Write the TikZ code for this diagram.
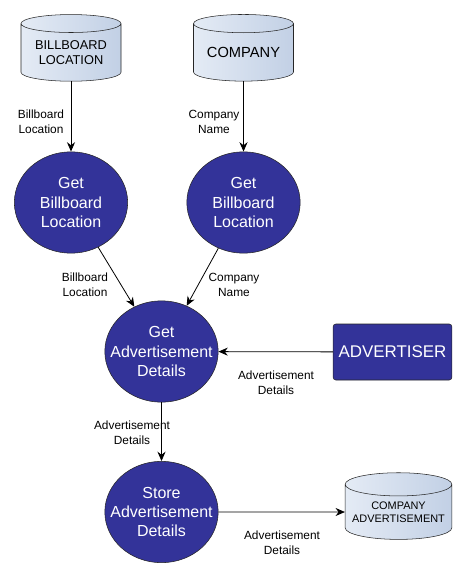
\documentclass[tikz,border=0pt]{standalone}
\usepackage{fontspec}
\setmainfont{Liberation Sans}
\usetikzlibrary{shapes.geometric,arrows.meta}
\definecolor{procblue}{RGB}{51,51,153}
\definecolor{storelight}{RGB}{228,235,245}
\definecolor{storedark}{RGB}{194,208,229}

\begin{document}
\begin{tikzpicture}[x=0.75pt,y=-0.75pt,
    process/.style={ellipse,draw=black!85,fill=procblue,text=white,minimum width=85pt,minimum height=76pt,inner sep=0pt,inner xsep=-10pt,align=center,font=\fontsize{12}{14.6}\selectfont},
    store/.style={cylinder,shape border rotate=90,aspect=0.25,draw=black!85,left color=storelight,right color=storedark,minimum width=75pt,minimum height=50pt,inner sep=0pt,align=center},
    entity/.style={rectangle,rounded corners=2pt,draw=black!85,fill=procblue,text=white,minimum width=89pt,minimum height=42pt,font=\fontsize{12.7}{15}\selectfont},
    flow/.style={draw,line width=0.6pt,-{Stealth[length=7pt,width=6pt]}},
    flowlabel/.style={align=center,font=\fontsize{8.9}{11.2}\selectfont}]
        \useasboundingbox (0,0) rectangle (468,578);
        % data stores
        \node[store,font=\fontsize{9.6}{11.8}\selectfont] (BL) at (71,52.5) {BILLBOARD\\LOCATION};
        \node[store,font=\fontsize{11}{13}\selectfont] (CO) at (243.5,52.5) {COMPANY};
        \node[store,minimum width=80pt,font=\fontsize{8.2}{9.8}\selectfont] (CA) at (398.5,512) {COMPANY\\ADVERTISEMENT};
        % processes
        \node[process] (GB) at (71,202.5) {Get\\Billboard\\Location};
        \node[process] (GC) at (243.5,202.5) {Get\\Billboard\\Location};
        \node[process] (GA) at (161.5,351.5) {Get\\Advertisement\\Details};
        \node[process] (SA) at (161.5,512) {Store\\Advertisement\\Details};
        \node[entity] (AD) at (392.5,352) {ADVERTISER};
        % flows
        \draw[flow] (BL) -- (GB);
        \draw[flow] (CO) -- (GC);
        \draw[flow] (GB) -- (GA);
        \draw[flow] (GC) -- (GA);
        \draw[flow] (AD) -- (GA);
        \draw[flow] (GA) -- (SA);
        \draw[flow] (SA) -- (CA);
        \node[flowlabel] (L1) at (41,122) {Billboard\\Location};
        \node[flowlabel] (L2) at (214,122) {Company\\Name};
        \node[flowlabel] (L3) at (85,284.5) {Billboard\\Location};
        \node[flowlabel] (L4) at (234,284.5) {Company\\Name};
        \node[flowlabel] (L5) at (276,383) {Advertisement\\Details};
        \node[flowlabel] (L6) at (132,432.5) {Advertisement\\Details};
        \node[flowlabel] (L7) at (282,542.5) {Advertisement\\Details};
\end{tikzpicture}
\end{document}
